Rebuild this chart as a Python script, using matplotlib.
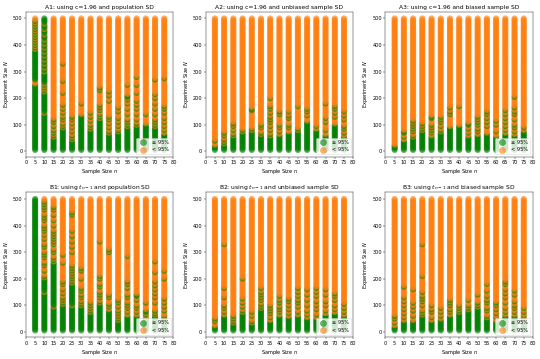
import numpy as np
import matplotlib
matplotlib.use("Agg")
import matplotlib.pyplot as plt

# sample sizes n (x) and experiment sizes N (y)
sample_sizes = [5, 10, 15, 20, 25, 30, 35, 40, 45, 50, 55, 60, 65, 70, 75]
experiment_sizes = list(range(5, 505, 5))

titles = ["A1: using c=1.96 and population SD",
          "A2: using c=1.96 and unbiased sample SD",
          "A3: using c=1.96 and biased sample SD",
          "B1: using $t_{n-1}$ and population SD",
          "B2: using $t_{n-1}$ and unbiased sample SD",
          "B3: using $t_{n-1}$ and biased sample SD"]

# for each n: all N up to "solid" reach >= 95%, plus the "extra" N, minus the "holes"
A1_solid = [380, 500, 50, 85, 40, 135, 80, 120, 65, 70, 90, 95, 100, 90, 65]
A1_holes = [[255, 260, 265], [145, 225, 235, 245, 255, 300, 315, 330, 345, 360, 375, 390, 405, 420, 440, 460, 480],
            [], [], [], [], [], [], [], [], [], [], [], [], []]
A1_extra = [[390, 400, 410, 420, 430, 440, 450, 460, 470, 480, 490], [],
            [60, 70, 80, 95, 110, 120], [95, 105, 120, 130, 145, 160, 175, 220, 265, 330],
            [50, 60, 75, 90, 105, 120, 130], [180], [90, 100, 115, 130, 145],
            [130, 140, 155, 165, 175, 230, 240], [75, 90, 105, 120, 130, 190, 210, 225],
            [80, 95, 110, 125, 150, 165], [100, 110, 120, 140, 160, 180, 195, 205, 210, 250],
            [105, 120, 140, 160, 175, 190, 220, 250, 280], [140],
            [100, 110, 120, 140, 160, 180, 200, 215, 270], [80, 95, 110, 125, 145, 160, 170, 275]]

A2_solid = [20, 25, 55, 70, 75, 60, 55, 60, 70, 75, 110, 80, 60, 100, 55]
A2_extra = [[40], [35, 45, 60, 70], [65, 80, 95, 105], [80], [85, 155, 160], [70, 90, 100],
            [65, 80, 95, 110, 120, 130, 145, 160, 170, 200], [75, 90, 100, 140, 150],
            [90, 100, 125, 135, 150], [85, 170], [135, 150, 160], [95], [80, 110, 125, 180],
            [130, 145, 160, 170], [70, 85, 95, 120, 135, 150]]

A3_solid = [15, 40, 50, 75, 55, 70, 90, 95, 55, 60, 65, 55, 65, 60, 75]
A3_extra = [[20], [55, 70, 75], [60, 75, 85, 95, 105, 115], [85, 95, 105],
            [70, 80, 90, 100, 125, 130], [80, 95, 110, 120, 130], [140, 150, 165], [170],
            [70, 85, 100, 105], [75, 85, 100, 110, 120, 130], [95, 110, 125, 140, 150],
            [75, 100, 115], [80, 95, 110, 125, 140, 155], [75, 90, 100, 120, 140, 150, 165, 205], [90]]

B1_solid = [500, 200, 260, 100, 180, 95, 70, 105, 80, 40, 60, 60, 50, 60, 50]
B1_holes = [[], [150], [95], [], [100], [], [], [], [], [], [], [], [], [], []]
B1_extra = [[], [210, 230, 250, 260, 280, 290, 300, 320, 330, 350, 365, 380, 390, 400, 420, 430, 440, 460, 470, 480, 490],
            [270, 280, 300, 310, 330, 340, 350, 360, 370, 380, 400, 420, 440, 460, 470],
            [110, 120, 130, 145, 160, 180, 190, 260, 290],
            [190, 200, 210, 220, 230, 240, 250, 300, 320, 340, 360, 380, 440, 450],
            [105, 115, 130, 140, 155, 165, 200, 230, 240], [80, 90, 100, 110],
            [115, 130, 140, 150, 170, 180, 200, 210, 340], [95, 105, 130, 140, 300, 310],
            [50, 60, 70, 80, 95, 110, 120], [75, 90, 100, 110, 130, 140, 165, 180, 190, 285],
            [75, 90, 100, 120, 135, 140], [65, 75, 80, 110],
            [70, 80, 110, 130, 145, 160, 175, 190, 225, 265], [60, 80, 95, 110, 125, 200, 230]]

B2_solid = [20, 60, 30, 70, 30, 85, 40, 60, 55, 60, 50, 50, 65, 70, 60]
B2_extra = [[40, 50], [75, 90, 100, 130, 165, 330], [40, 50, 60], [80, 95, 110, 125, 200],
            [40, 60, 75], [95, 105, 120, 130, 140, 150, 165], [55, 70, 80, 90, 100],
            [75, 85, 95, 110, 120, 135], [70, 85, 100, 115, 125],
            [75, 95, 110, 120, 135, 150, 165], [65, 80, 100, 120, 140, 160],
            [65, 85, 100, 115, 135, 150, 165], [80, 100, 115, 140, 160],
            [85, 100, 120, 135, 145], [75, 90, 105]]

B3_solid = [20, 40, 40, 60, 40, 45, 60, 70, 80, 90, 50, 40, 60, 60, 45]
B3_extra = [[35, 50, 60], [55, 70, 85, 100, 115, 130, 170], [60, 80, 95, 110, 160],
            [70, 80, 100, 115, 125, 135, 150, 210, 330], [55, 75, 85, 100], [60, 75, 90],
            [75, 85, 100, 110, 120], [80, 90, 100], [90, 100, 120], [100, 110, 140],
            [60, 80, 90, 110, 120, 135, 155, 180], [55, 70, 85, 100, 110],
            [75, 90, 110, 130, 145, 160, 180, 190], [75, 90, 100, 115, 140, 155], [60, 75, 90]]

no_holes = [[] for _ in sample_sizes]
panels = [(A1_solid, A1_extra, A1_holes), (A2_solid, A2_extra, no_holes), (A3_solid, A3_extra, no_holes),
          (B1_solid, B1_extra, B1_holes), (B2_solid, B2_extra, no_holes), (B3_solid, B3_extra, no_holes)]

fig, axes = plt.subplots(2, 3, figsize=(15, 359 / 36))
plt.subplots_adjust(left=0.048, right=0.987, bottom=0.061, top=0.967, wspace=0.218, hspace=0.248)

for ax, title, (solid, extra, holes) in zip(axes.flat, titles, panels):
    for n, s, ex, ho in zip(sample_sizes, solid, extra, holes):
        cols = []
        for N in experiment_sizes:
            good = (N <= s and N not in ho) or N in ex
            cols.append('green' if good else 'tab:orange')
        ax.scatter([n] * len(experiment_sizes), experiment_sizes, c=cols, s=150, alpha=0.6, linewidths=0)
    ax.scatter([], [], c='green', s=150, alpha=0.6, label='≥ 95%')
    ax.scatter([], [], c='tab:orange', s=150, alpha=0.6, label='< 95%')
    ax.set_xlim(0, 80)
    ax.set_xticks(range(0, 85, 5))
    ax.set_yticks(range(0, 600, 100))
    ax.set_title(title)
    ax.set_xlabel('Sample Size $n$')
    ax.set_ylabel('Experiment Size $N$')
    ax.legend(loc='lower right')

plt.savefig('out.png', dpi=36)
